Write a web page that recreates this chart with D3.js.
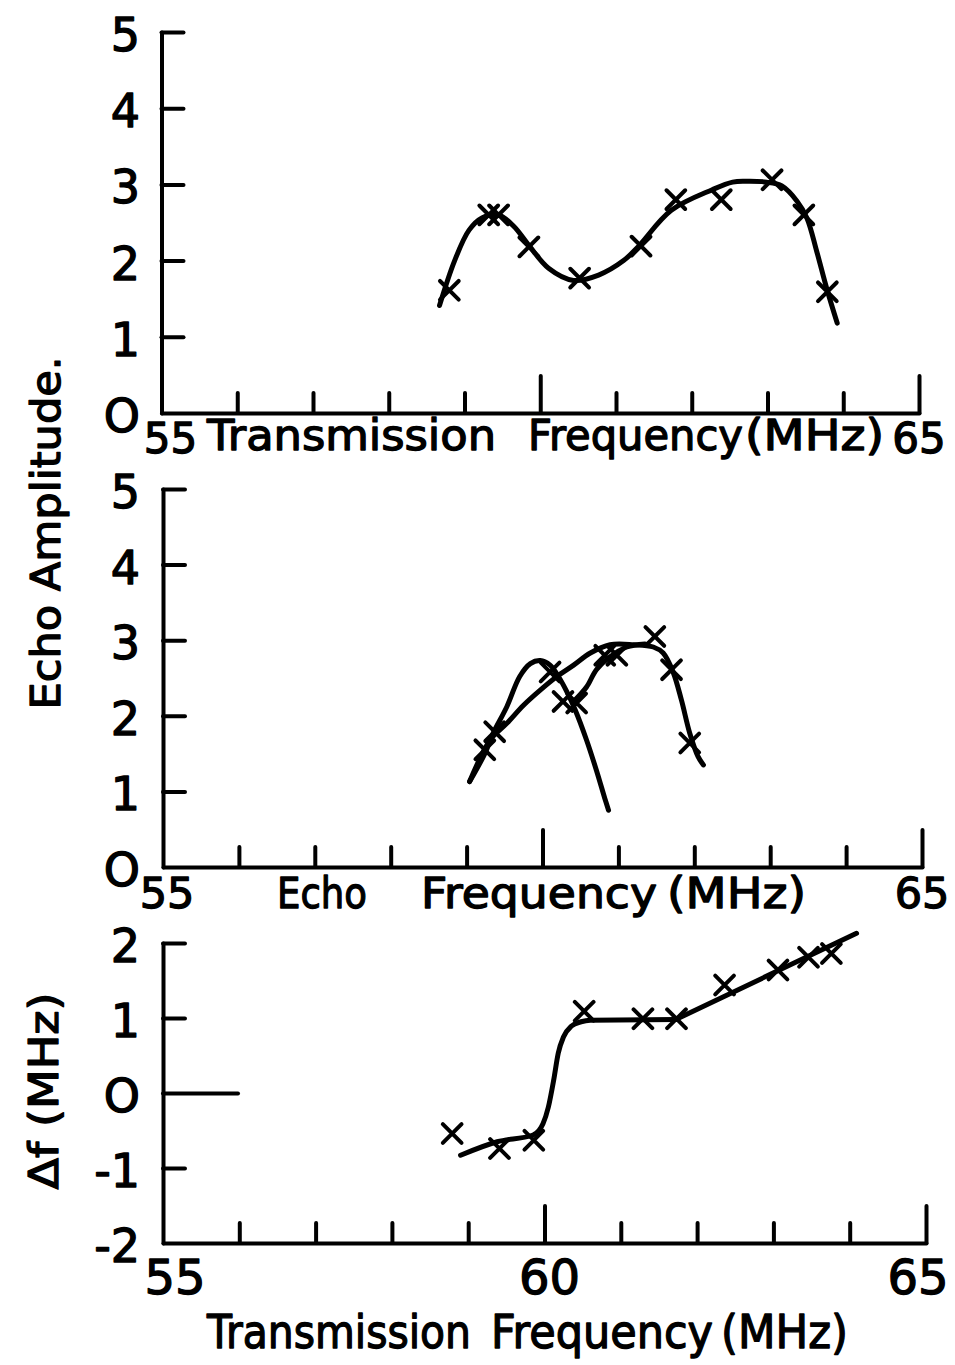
<!DOCTYPE html>
<html>
<head>
<meta charset="utf-8">
<script src="https://cdn.jsdelivr.net/npm/d3@7"></script>
<style>
  body { margin: 0; background: #fff; }
  svg text { font-family: "DejaVu Sans", sans-serif; fill: #000; stroke: #000; stroke-width: 1.3; stroke-linejoin: round; }
  .axis path, .axis line { stroke: #000; stroke-width: 4; stroke-linecap: round; }
  .curve { fill: none; stroke: #000; stroke-width: 5; stroke-linecap: round; stroke-linejoin: round; }
  .mark { fill: none; stroke: #000; stroke-width: 4; stroke-linecap: round; }
</style>
</head>
<body>
<svg id="chart" width="955" height="1365"></svg>
<script>
// ---- data ----
const minorFreqTicks = [56, 57, 58, 59, 61, 62, 63, 64];
const majorFreqTicks = [60, 65];
const ampTicks = [1, 2, 3, 4, 5];
const ampTickLabels = ["O", "1", "2", "3", "4", "5"];     // for 0..5
const dfTicks = [-1, 1, 2];
const dfTickLabels = ["-2", "-1", "O", "1", "2"];         // for -2..2

// top: echo amplitude vs transmission frequency
const txFreq = [58.80, 59.32, 59.45, 59.85, 60.52, 61.33, 61.79, 62.39, 63.06, 63.48, 63.79];
const txAmp  = [1.61, 2.60, 2.60, 2.18, 1.77, 2.19, 2.80, 2.80, 3.06, 2.60, 1.59];
const txCurveFreq = [58.67, 58.87, 59.06, 59.23, 59.45, 59.65, 59.85, 60.11, 60.44, 60.77, 61.10, 61.29,
                     61.73, 62.27, 62.54, 62.73, 62.99, 63.19, 63.39, 63.52, 63.65, 63.78, 63.92];
const txCurveAmp  = [1.41, 2.00, 2.40, 2.56, 2.60, 2.45, 2.20, 1.90, 1.74, 1.81, 2.00, 2.18,
                     2.66, 2.93, 3.03, 3.04, 3.03, 2.98, 2.78, 2.56, 2.12, 1.64, 1.18];

// middle: echo amplitude vs echo frequency
const echoFreq = [59.24, 59.37, 60.10, 60.27, 60.45, 60.82, 60.98, 61.48, 61.70, 61.94];
const echoAmp  = [1.55, 1.79, 2.58, 2.19, 2.17, 2.80, 2.80, 3.05, 2.61, 1.64];
const echoCurveAFreq = [59.04, 59.24, 59.35, 59.53, 59.70, 59.84, 59.97, 60.10, 60.21, 60.32, 60.43, 60.58, 60.71, 60.82, 60.87];
const echoCurveAAmp  = [1.13, 1.50, 1.77, 2.12, 2.52, 2.69, 2.73, 2.67, 2.52, 2.32, 2.08, 1.68, 1.28, 0.91, 0.75];
const echoCurveBFreq = [59.04, 59.31, 59.53, 59.75, 59.97, 60.19, 60.41, 60.63, 60.89, 61.20, 61.46, 61.59, 61.72, 61.83, 61.94, 62.05, 62.12];
const echoCurveBAmp  = [1.13, 1.68, 1.90, 2.14, 2.34, 2.52, 2.67, 2.83, 2.94, 2.94, 2.91, 2.83, 2.58, 2.21, 1.77, 1.46, 1.35];
const echoCurveCFreq = [60.41, 60.58, 60.71, 60.89, 61.11, 61.35];
const echoCurveCAmp  = [2.19, 2.38, 2.61, 2.78, 2.91, 2.95];

// bottom: frequency shift vs transmission frequency
const shiftFreq = [58.79, 59.41, 59.86, 60.52, 61.29, 61.73, 62.36, 63.06, 63.46, 63.76];
const shiftDf   = [-0.54, -0.74, -0.63, 1.09, 0.99, 0.99, 1.44, 1.64, 1.81, 1.86];
const shiftStepFreq = [58.90, 59.38, 59.85, 59.98, 60.05, 60.12, 60.18, 60.25, 60.35, 60.48, 60.60, 61.72];
const shiftStepDf   = [-0.83, -0.65, -0.56, -0.41, -0.19, 0.17, 0.53, 0.75, 0.89, 0.95, 0.97, 0.98];
const shiftRiseFreq = [61.72, 64.09];
const shiftRiseDf   = [0.98, 2.13];

const svg = d3.select("#chart");
const cross = d3.symbol(d3.symbolTimes).size(230);

function panel(cfg) {
  const x = d3.scaleLinear().domain([55, 65]).range(cfg.xr);
  const y = d3.scaleLinear().domain(cfg.yd).range(cfg.yr);
  const g = svg.append("g");
  const base = cfg.yr[0];

  g.append("g").attr("class", "axis").attr("transform", `translate(0,${base})`)
    .call(d3.axisBottom(x).tickValues(minorFreqTicks).tickSize(-20).tickSizeOuter(0).tickFormat(""));
  g.append("g").attr("class", "axis").attr("transform", `translate(0,${base})`)
    .call(d3.axisBottom(x).tickValues(majorFreqTicks).tickSize(-37).tickSizeOuter(0).tickFormat(""))
    .call(a => a.select(".domain").remove());
  g.append("g").attr("class", "axis").attr("transform", `translate(${cfg.xr[0]},0)`)
    .call(d3.axisRight(y).tickValues(cfg.yTicks).tickSize(22).tickSizeOuter(0).tickFormat(""));
  if (cfg.zeroTick) {
    g.append("g").attr("class", "axis").attr("transform", `translate(${cfg.xr[0]},0)`)
      .call(d3.axisRight(y).tickValues([0]).tickSize(75).tickFormat(""))
      .call(a => a.select(".domain").remove());
  }

  // y tick labels
  const yVals = d3.range(cfg.yd[0], cfg.yd[1] + 1);
  g.selectAll(".ylab").data(yVals).join("text")
    .attr("class", "ylab")
    .attr("x", 140)
    .attr("y", d => y(d) + 19)
    .attr("text-anchor", "end")
    .attr("font-size", 46)
    .text((d, i) => cfg.yLabels[i]);

  // x tick labels
  g.selectAll(".xlab").data(cfg.xLabels).join("text")
    .attr("class", "xlab")
    .attr("x", d => x(d) + (cfg.xLabelShift[d] || 0))
    .attr("y", cfg.xLabelY)
    .attr("text-anchor", "middle")
    .attr("font-size", cfg.xLabelSize)
    .text(d => d);

  // axis title words
  cfg.title.forEach(w => {
    g.append("text")
      .attr("x", w[1]).attr("y", cfg.titleY)
      .attr("font-size", cfg.titleSize)
      .attr("textLength", w[2]).attr("lengthAdjust", "spacingAndGlyphs")
      .text(w[0]);
  });

  const line = d3.line().x(d => x(d[0])).y(d => y(d[1]));
  cfg.curves.forEach(c => {
    g.append("path").attr("class", "curve")
      .attr("d", line.curve(c.curve)(d3.zip(c.f, c.v)));
  });

  g.selectAll(".mark").data(d3.zip(cfg.pf, cfg.pv)).join("path")
    .attr("class", "mark")
    .attr("transform", d => `translate(${x(d[0])},${y(d[1])})`)
    .attr("d", cross);
}

const smooth = d3.curveCatmullRom.alpha(0.5);

panel({
  xr: [161.5, 919], yd: [0, 5], yr: [413, 32],
  yTicks: ampTicks, yLabels: ampTickLabels,
  xLabels: [55, 65], xLabelShift: { 55: 9 }, xLabelY: 453, xLabelSize: 42,
  title: [["Transmission", 207, 289], ["Frequency", 528, 215], ["(MHz)", 745, 139]],
  titleY: 450, titleSize: 42,
  curves: [{ f: txCurveFreq, v: txCurveAmp, curve: smooth }],
  pf: txFreq, pv: txAmp
});

panel({
  xr: [163, 922], yd: [0, 5], yr: [867, 489],
  yTicks: ampTicks, yLabels: ampTickLabels,
  xLabels: [55, 65], xLabelShift: { 55: 4 }, xLabelY: 908, xLabelSize: 43,
  title: [["Echo", 277, 90], ["Frequency", 421, 236], ["(MHz)", 667, 139]],
  titleY: 908, titleSize: 43,
  curves: [
    { f: echoCurveAFreq, v: echoCurveAAmp, curve: smooth },
    { f: echoCurveBFreq, v: echoCurveBAmp, curve: smooth },
    { f: echoCurveCFreq, v: echoCurveCAmp, curve: smooth }
  ],
  pf: echoFreq, pv: echoAmp
});

panel({
  xr: [163, 926], yd: [-2, 2], yr: [1243, 943],
  yTicks: dfTicks, yLabels: dfTickLabels, zeroTick: true,
  xLabels: [55, 60, 65], xLabelShift: { 55: 12, 60: 5, 65: -8 }, xLabelY: 1294, xLabelSize: 48,
  title: [["Transmission", 207, 264], ["Frequency", 491, 222], ["(MHz)", 721, 127]],
  titleY: 1348, titleSize: 46,
  curves: [
    { f: shiftStepFreq, v: shiftStepDf, curve: d3.curveMonotoneX },
    { f: shiftRiseFreq, v: shiftRiseDf, curve: d3.curveLinear }
  ],
  pf: shiftFreq, pv: shiftDf
});

// rotated y titles
svg.append("text")
  .attr("transform", "translate(60,533) rotate(-90)")
  .attr("text-anchor", "middle")
  .attr("font-size", 40)
  .attr("textLength", 353).attr("lengthAdjust", "spacingAndGlyphs")
  .text("Echo Amplitude.");

svg.append("text")
  .attr("transform", "translate(58,1091) rotate(-90)")
  .attr("text-anchor", "middle")
  .attr("font-size", 40)
  .attr("textLength", 197).attr("lengthAdjust", "spacingAndGlyphs")
  .text("Δf (MHz)");
</script>
</body>
</html>
